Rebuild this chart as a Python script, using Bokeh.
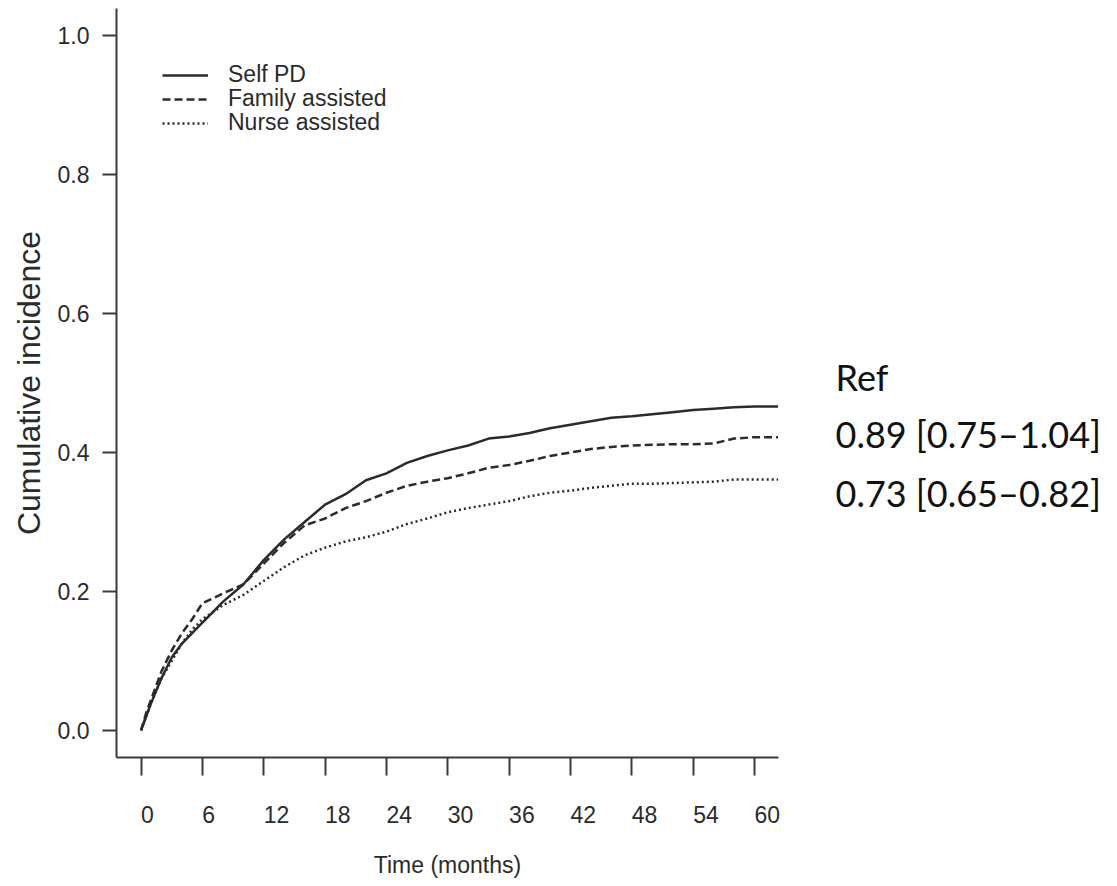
from bokeh.plotting import figure
from bokeh.layouts import row
from bokeh.models import Range1d, FixedTicker, Legend, LegendItem
from bokeh.core.properties import value
from bokeh.embed import file_html
from bokeh.resources import INLINE

# ---- data ----
months = [0, 0.5, 1, 2, 3, 4, 5, 6, 7, 8, 10, 12, 14, 16, 18, 20, 22, 24, 26, 28, 30,
          32, 34, 36, 38, 40, 42, 44, 46, 48, 50, 52, 54, 56, 58, 60, 62.3]
self_pd = [0.0, 0.02, 0.04, 0.075, 0.105, 0.125, 0.14, 0.155, 0.17, 0.185, 0.21, 0.245,
           0.275, 0.30, 0.325, 0.34, 0.36, 0.37, 0.385, 0.395, 0.403, 0.41, 0.42, 0.423,
           0.428, 0.435, 0.44, 0.445, 0.45, 0.452, 0.455, 0.458, 0.461, 0.463, 0.465,
           0.466, 0.466]
family = [0.0, 0.025, 0.045, 0.085, 0.115, 0.14, 0.16, 0.183, 0.19, 0.197, 0.21, 0.24,
          0.27, 0.295, 0.305, 0.32, 0.33, 0.342, 0.352, 0.358, 0.363, 0.37, 0.378, 0.382,
          0.388, 0.395, 0.40, 0.405, 0.408, 0.41, 0.411, 0.412, 0.412, 0.413, 0.42,
          0.422, 0.422]
nurse = [0.0, 0.02, 0.04, 0.075, 0.10, 0.125, 0.145, 0.16, 0.17, 0.18, 0.195, 0.215,
         0.235, 0.252, 0.263, 0.272, 0.278, 0.286, 0.297, 0.305, 0.314, 0.32, 0.325,
         0.33, 0.337, 0.342, 0.345, 0.349, 0.352, 0.355, 0.355, 0.356, 0.357, 0.358,
         0.361, 0.361, 0.361]

series_names = ["Self PD", "Family assisted", "Nurse assisted"]
x_ticks = [0, 6, 12, 18, 24, 30, 36, 42, 48, 54, 60]
x_tick_labels = [str(t) for t in x_ticks]
y_ticks = [0.0, 0.2, 0.4, 0.6, 0.8, 1.0]
hr_lines = ["Ref", "0.89 [0.75\u20131.04]", "0.73 [0.65\u20130.82]"]

AX_FONT = "Liberation Sans"
INK = "#2b2b2b"
Y0, Y1 = -0.039, 1.039
H = 880
TOP, BOTTOM = 8, 123

p = figure(width=786, height=H,
           x_range=Range1d(-2.4, 62.35), y_range=Range1d(Y0, Y1),
           output_backend="svg", toolbar_location=None,
           min_border_left=116, min_border_right=8,
           min_border_top=TOP, min_border_bottom=BOTTOM)
p.outline_line_color = None
p.xgrid.visible = False
p.ygrid.visible = False

styles = [dict(line_dash="solid"), dict(line_dash="8 4"), dict(line_dash="2 3")]
renderers = []
for ys, st in zip([self_pd, family, nurse], styles):
    r = p.line(months, ys, line_color=INK, line_width=2.5, **st)
    renderers.append(r)

# axes
for ax in (p.xaxis[0], p.yaxis[0]):
    ax.axis_line_color = "#3a3a3a"
    ax.axis_line_width = 2
    ax.major_tick_line_color = "#3a3a3a"
    ax.major_tick_line_width = 2
    ax.minor_tick_line_color = None
    ax.major_tick_in = 0

# x tick labels sit left-aligned on their tick in the reference: pad with figure spaces
p.xaxis.ticker = FixedTicker(ticks=x_ticks)
p.xaxis.major_label_overrides = {t: "\u2007" * len(s) + s for t, s in zip(x_ticks, x_tick_labels)}
p.xaxis.major_tick_out = 18
p.xaxis.major_label_standoff = 26
p.xaxis.major_label_text_font = AX_FONT
p.xaxis.major_label_text_font_size = "23px"
p.xaxis.major_label_text_color = INK
p.xaxis.axis_label = "Time (months)"
p.xaxis.axis_label_text_font = AX_FONT
p.xaxis.axis_label_text_font_size = "23px"
p.xaxis.axis_label_text_font_style = "normal"
p.xaxis.axis_label_text_color = INK
p.xaxis.axis_label_standoff = 21

p.yaxis.ticker = FixedTicker(ticks=y_ticks)
p.yaxis.major_label_overrides = {t: f"{t:.1f}" for t in y_ticks}
p.yaxis.major_tick_out = 14
p.yaxis.major_label_standoff = 13
p.yaxis.major_label_text_font = AX_FONT
p.yaxis.major_label_text_font_size = "23px"
p.yaxis.major_label_text_color = INK
p.yaxis.axis_label = "Cumulative incidence"
p.yaxis.axis_label_text_font = AX_FONT
p.yaxis.axis_label_text_font_size = "32px"
p.yaxis.axis_label_text_font_style = "normal"
p.yaxis.axis_label_text_color = INK
p.yaxis.axis_label_standoff = 8

# legend: one Legend per row for exact spacing
row_y = [669, 645, 621]
for r, name, y in zip(renderers, series_names, row_y):
    leg = Legend(items=[LegendItem(label=name, renderers=[r])], location=(46, y),
                 padding=0, margin=0, spacing=0, border_line_color=None,
                 background_fill_alpha=0, glyph_width=46, glyph_height=20,
                 label_standoff=20, label_text_font=AX_FONT,
                 label_text_font_size="23px", label_text_color=INK)
    p.add_layout(leg)

# right panel with the hazard-ratio annotation (same vertical scale as the plot)
q = figure(width=320, height=H, x_range=Range1d(0, 320), y_range=Range1d(Y0, Y1),
           output_backend="svg", toolbar_location=None,
           x_axis_location=None, y_axis_location=None,
           min_border_left=0, min_border_right=0,
           min_border_top=TOP, min_border_bottom=BOTTOM)
q.outline_line_color = None
q.xgrid.visible = False
q.ygrid.visible = False
hr_x = [49, 49, 49]
hr_y = [0.5093, 0.4259, 0.3410]
q.text(x=hr_x, y=hr_y, text=hr_lines, text_align="left", text_baseline="alphabetic",
       text_font=value("Lato"), text_font_size="36px", text_color="#111111")

layout = row(p, q, spacing=0)
open("out.html", "w").write(file_html(layout, INLINE))
